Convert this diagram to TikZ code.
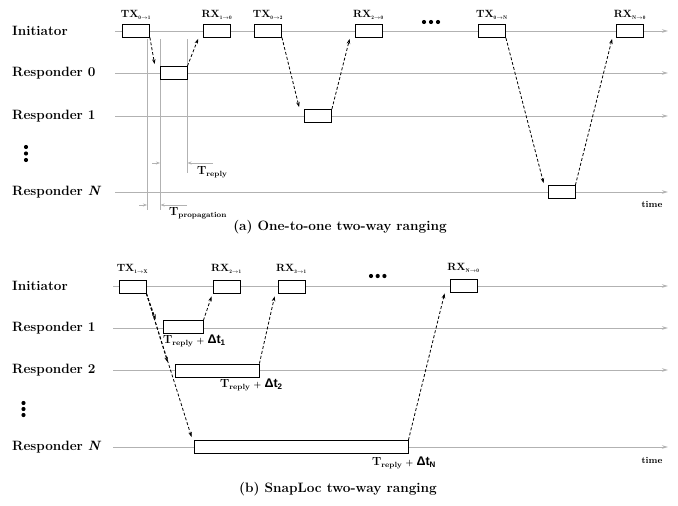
\documentclass[tikz,border=0pt]{standalone}
\usepackage{fontspec}
\newfontfamily\arialf{Liberation Sans}
\usetikzlibrary{arrows.meta,calc}
\definecolor{linegray}{RGB}{178,178,178}
\begin{document}
\begin{tikzpicture}[x=1pt,y=-1pt,
  tl/.style={draw=linegray,line width=1pt,-{Stealth[length=6pt,width=3.5pt]}},
  vl/.style={draw=linegray,line width=1pt},
  ga/.style={draw=linegray,line width=0.9pt,-{Stealth[length=4pt,width=3pt]}},
  bx/.style={draw=black,fill=white,line width=0.8pt,minimum height=13pt,inner sep=0pt},
  lbl/.style={anchor=west,inner sep=0pt,font=\fontsize{13.5}{16}\selectfont\bfseries},
  msg/.style={inner sep=0pt,font=\fontsize{10.5}{12}\selectfont\bfseries},
  msgline/.style={draw=black,line width=0.8pt,dash pattern=on 3pt off 2pt,-{Stealth[length=5pt,width=3.5pt]}},
  tlab/.style={inner sep=0pt,font=\fontsize{9}{11}\selectfont\bfseries},
  captext/.style={inner sep=0pt,font=\fontsize{13.6}{16}\selectfont\bfseries},
  dlab/.style={inner sep=0pt,anchor=west,font=\fontsize{11.8}{14}\selectfont\bfseries}]
\useasboundingbox (0,0) rectangle (678,506);
\newcommand{\Tr}{T\textsubscript{\fontsize{7.5}{8}\selectfont reply}}
\newcommand{\Dt}[1]{{\arialf\fontsize{12.5}{14}\selectfont\textbf{Δt}\raisebox{-2pt}{\fontsize{8}{9}\selectfont\textbf{#1}}}}
\newcommand{\pl}{{\fontsize{8}{9}\selectfont\ +\ }}

% ================= (a) =================
\node[lbl] (ia) at (12,31) {Initiator};
\node[lbl] (r0a) at (12,73) {Responder 0};
\node[lbl] (r1a) at (12,116) {Responder 1};
\node[lbl] (rNa) at (12,192) {Responder \textit{N}};

\foreach \n/\y in {ia/31,r0a/73,r1a/116,rNa/192}{
  \coordinate (\n s) at (115,\y);
  \coordinate (\n e) at (668,\y);
  \draw[tl] (\n s) -- (\n e);
}

% vertical timing lines
\coordinate (v1t) at (147,39); \coordinate (v1b) at (147,210);
\coordinate (v2t) at (160,39); \coordinate (v2b) at (160,210);
\coordinate (v3t) at (187,39); \coordinate (v3b) at (187,173);
\draw[vl] (v1t) -- (v1b);
\draw[vl] (v2t) -- (v2b);
\draw[vl] (v3t) -- (v3b);

% boxes
\node[bx,minimum width=27pt] (tx01) at (136,30.5) {};
\node[bx,minimum width=27pt] (rx10) at (217,30.5) {};
\node[bx,minimum width=27pt] (tx02) at (268,30.5) {};
\node[bx,minimum width=27pt] (rx20) at (368.5,30.5) {};
\node[bx,minimum width=27pt] (tx0N) at (492,31) {};
\node[bx,minimum width=27pt] (rxN0) at (630,31) {};
\node[bx,minimum width=27pt] (b0) at (173.5,73) {};
\node[bx,minimum width=27pt] (b1) at (318,116) {};
\node[bx,minimum width=27pt] (bN) at (561.5,192) {};

% box labels
\node[msg] at (136,15) {TX$_{\scriptscriptstyle\mathbf{0\rightarrow 1}}$};
\node[msg] at (217,15) {RX$_{\scriptscriptstyle\mathbf{1\rightarrow 0}}$};
\node[msg] at (268,15) {TX$_{\scriptscriptstyle\mathbf{0\rightarrow 2}}$};
\node[msg] at (368.5,15) {RX$_{\scriptscriptstyle\mathbf{2\rightarrow 0}}$};
\node[msg] at (492,15) {TX$_{\scriptscriptstyle\mathbf{0\rightarrow N}}$};
\node[msg] at (630,15) {RX$_{\scriptscriptstyle\mathbf{N\rightarrow 0}}$};

% dots
\foreach \x in {424,431,438} \fill (\x,22) circle (2.1pt);
\foreach \y in {147,153.5,160} \fill (26,\y) circle (2.1pt);

% dashed messages
\draw[msgline] (tx01.south east) -- ($(b0.north west)+(-5,-2)$);
\draw[msgline] (b0.north east) -- ($(rx10.south west)+(-5,1.5)$);
\draw[msgline] (tx02.south east) -- ($(b1.north west)+(-5,-2)$);
\draw[msgline] (b1.north east) -- ($(rx20.south west)+(-5,1.5)$);
\draw[msgline] (tx0N.south east) -- ($(bN.north west)+(-4,-2)$);
\draw[msgline] (bN.north east) -- ($(rxN0.south west)+(-4,1)$);

% timing annotations
\coordinate (pr1) at (152,163); \coordinate (pr2) at (160,163);
\coordinate (rr1) at (213,163); \coordinate (rr2) at (187.5,163);
\draw[ga] (pr1) -- (pr2);
\draw[ga] (rr1) -- (rr2);
\node[dlab] (trep) at (197,172) {\Tr};
\coordinate (pp1) at (139,205); \coordinate (pp2) at (147,205);
\coordinate (pq1) at (187,205); \coordinate (pq2) at (160.5,205);
\draw[ga] (pp1) -- (pp2);
\draw[ga] (pq1) -- (pq2);
\node[dlab] (tprop) at (169,213) {T\textsubscript{\fontsize{7.5}{8}\selectfont propagation}};

\node[tlab] (timea) at (652,204) {time};
\node[captext] (capa) at (340,227) {(a) One-to-one two-way ranging};

% ================= (b) =================
\node[lbl] (ib) at (12,286) {Initiator};
\node[lbl] (r1b) at (12,328) {Responder 1};
\node[lbl] (r2b) at (12,370) {Responder 2};
\node[lbl] (rNb) at (12,447) {Responder \textit{N}};

\foreach \n/\y in {ib/286,r1b/328,r2b/370,rNb/447}{
  \coordinate (\n s) at (113,\y);
  \coordinate (\n e) at (668,\y);
  \draw[tl] (\n s) -- (\n e);
}

\node[bx,minimum width=27pt] (tx1X) at (132.5,286.5) {};
\node[bx,minimum width=27pt] (rx21) at (226.5,286.5) {};
\node[bx,minimum width=27pt] (rx31) at (291.5,286.5) {};
\node[bx,minimum width=27pt] (rxN0b) at (463.5,285.5) {};
\node[bx,minimum width=40pt,minimum height=12.5pt] (c1) at (183,327) {};
\node[bx,minimum width=84pt] (c2) at (217,370.5) {};
\node[bx,minimum width=214pt] (cN) at (301,447) {};

\node[msg] at (132.5,269) {TX$_{\scriptscriptstyle\mathbf{1\rightarrow X}}$};
\node[msg] at (226.5,269) {RX$_{\scriptscriptstyle\mathbf{2\rightarrow 1}}$};
\node[msg] at (291.5,269) {RX$_{\scriptscriptstyle\mathbf{3\rightarrow 1}}$};
\node[msg] at (463.5,268) {RX$_{\scriptscriptstyle\mathbf{N\rightarrow 0}}$};

\foreach \x in {371,377.7,384.4} \fill (\x,276) circle (2.1pt);
\foreach \y in {403,409,415} \fill (23.5,\y) circle (2.1pt);

\draw[msgline] (tx1X.south east) -- ($(c1.north west)+(-7,-1)$);
\draw[msgline] (tx1X.south east) -- ($(c2.north west)+(-7,-1.5)$);
\draw[msgline] (tx1X.south east) -- ($(cN.north west)+(-2,-3)$);
\draw[msgline] (c1.north east) -- ($(rx21.south west)+(-1,3)$);
\draw[msgline] (c2.north east) -- ($(rx31.south west)+(-3,3)$);
\draw[msgline] (cN.north east) -- ($(rxN0b.south west)+(-5,1)$);

\node[dlab] (d1) at (163,341) {\Tr\pl\Dt{1}};
\node[dlab] (d2) at (220,385) {\Tr\pl\Dt{2}};
\node[dlab] (dN) at (372,463) {\Tr\pl\Dt{N}};

\node[tlab] (timeb) at (652,460) {time};
\node[captext] (capb) at (338,489) {(b) SnapLoc two-way ranging};
\end{tikzpicture}
\end{document}
